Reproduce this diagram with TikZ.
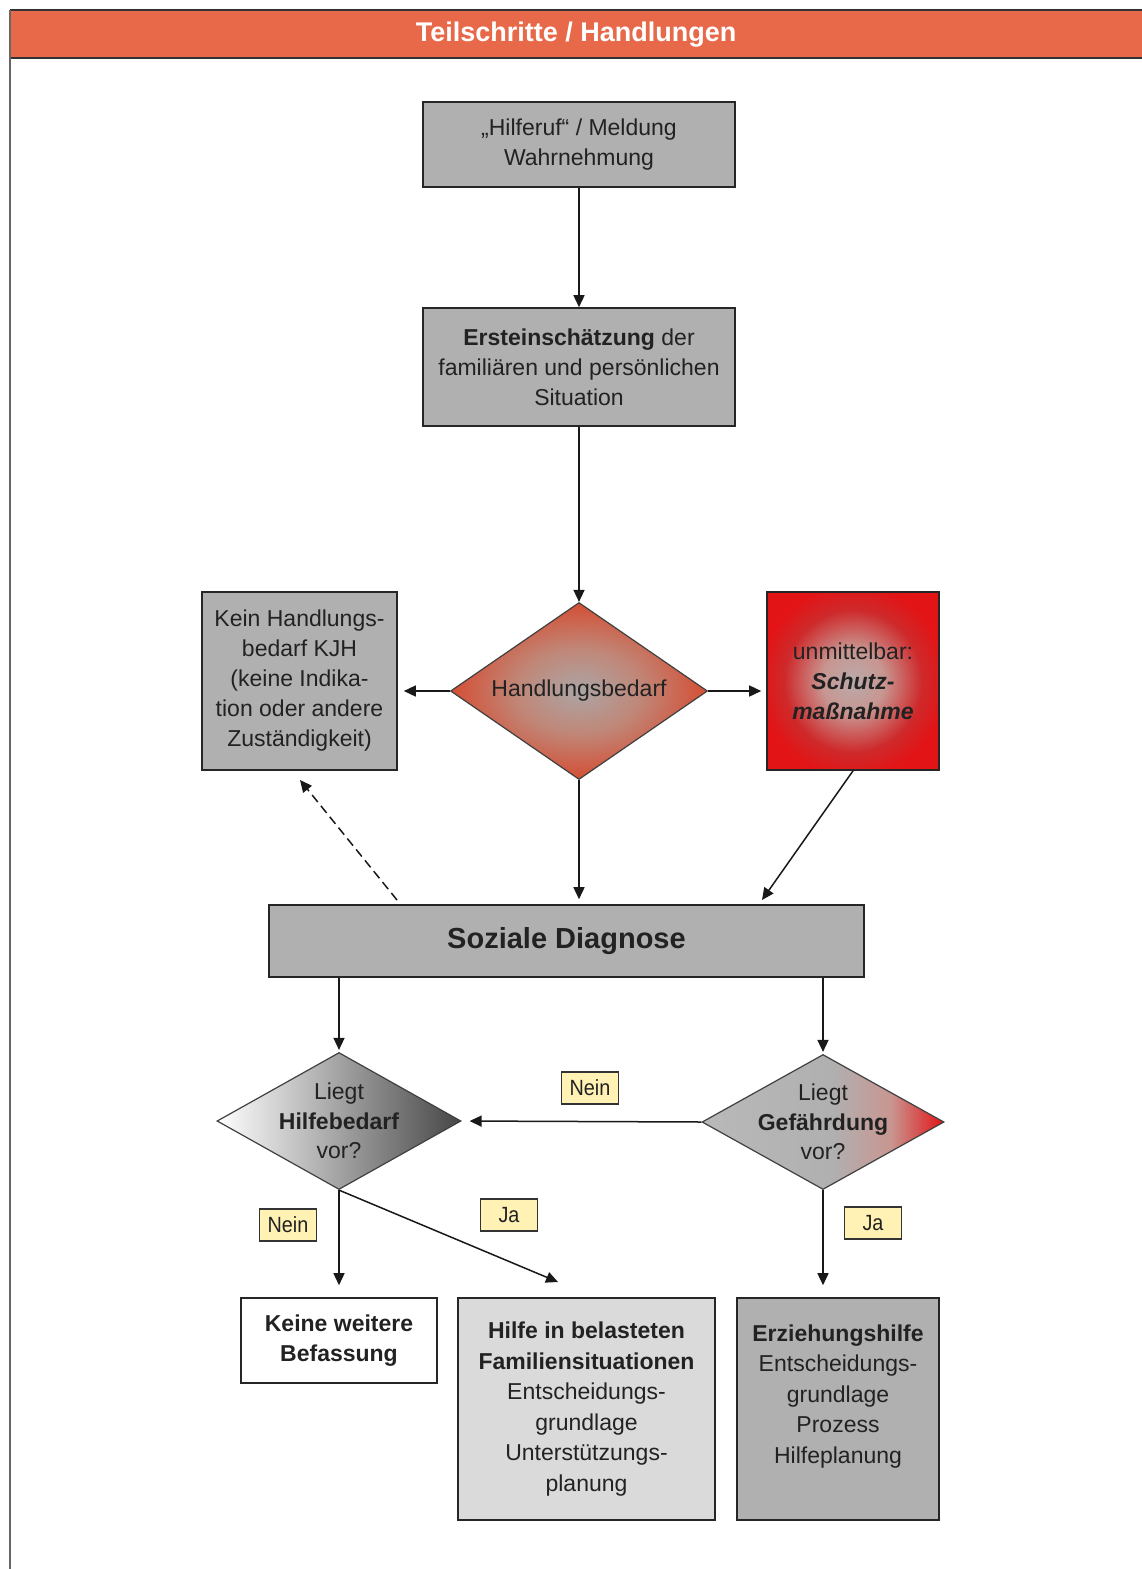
\documentclass[tikz,border=0pt]{standalone}
\usepackage{fontspec}
\setmainfont{Liberation Sans}
\newfontfamily\narrowfont{Liberation Sans}[FakeStretch=0.9]
\usetikzlibrary{arrows.meta,shapes.geometric}
\definecolor{hdr}{RGB}{232,105,74}
\definecolor{boxgray}{RGB}{176,176,176}
\definecolor{lightbox}{RGB}{218,218,218}
\definecolor{lab}{RGB}{255,242,180}
\definecolor{txt}{RGB}{34,34,34}
\definecolor{hred}{RGB}{212,78,52}
\definecolor{hmid}{RGB}{192,135,120}
\definecolor{hcen}{RGB}{172,165,165}
\definecolor{sred}{RGB}{226,20,22}
\definecolor{pinkgray}{RGB}{200,150,145}
\definecolor{scen}{RGB}{185,170,170}
\pgfdeclareradialshading{schutzshade}{\pgfpoint{0bp}{0bp}}{%
  color(0bp)=(scen);
  color(9bp)=(pinkgray);
  color(20bp)=(gray!20!sred);
  color(27bp)=(sred);
  color(50bp)=(sred)}
\pgfdeclareradialshading{handlshade}{\pgfpoint{0bp}{0bp}}{%
  color(0bp)=(hcen);
  color(12bp)=(hmid);
  color(25bp)=(hred);
  color(50bp)=(hred)}
\pgfdeclarehorizontalshading{gefshade}{100bp}{%
  color(0bp)=(gray!55);
  color(25bp)=(gray!55);
  color(52bp)=(gray!62);
  color(64bp)=(pinkgray);
  color(75bp)=(sred);
  color(100bp)=(sred)}
\begin{document}
\begin{tikzpicture}[x=1pt,y=-1pt,
  every node/.style={text=txt, align=center},
  boxstyle/.style={draw=black!85, line width=1.6pt, inner sep=2pt, font=\fontsize{23}{30}\selectfont},
  dia/.style={shape=diamond, draw=black!75, line width=1.2pt, inner sep=0pt},
  diatext/.style={font=\fontsize{23}{29.5}\selectfont, inner sep=0pt},
  labbox/.style={draw=black!80, fill=lab, line width=1.2pt, inner sep=2pt, minimum width=57pt, minimum height=32pt, font=\narrowfont\fontsize{22}{24}\selectfont},
  arr/.style={-{Triangle[width=11pt,length=12pt]}, line width=1.5pt, draw=black!90},
]
\useasboundingbox (0,0) rectangle (1142,1569);
\fill[white] (0,0) rectangle (1142,1569);
% frame and header
\node[fill=hdr, minimum width=1132pt, minimum height=48pt, inner sep=0pt, anchor=north west, text=white, font=\bfseries\fontsize{27}{30}\selectfont] (hdr) at (10,10) {Teilschritte / Handlungen};
\draw[line width=2pt, black!80] (10,10) -- (1142,10);
\draw[line width=2pt, black!80] (10,58) -- (1142,58);
\draw[line width=1.5pt, black!60] (10,10) -- (10,1569);

% boxes
\node[boxstyle, fill=boxgray, minimum width=312pt, minimum height=85pt] (b1) at (579,144.5) {„Hilferuf“ / Meldung\\Wahrnehmung};
\node[boxstyle, fill=boxgray, minimum width=312pt, minimum height=118pt] (b2) at (579,367) {\textbf{Ersteinschätzung} der\\familiären und persönlichen\\Situation};
\node[dia, minimum width=257pt, minimum height=177pt, shading=handlshade] (d1) at (579,691) {};
\node[diatext] (d1t) at (d1.center) {Handlungsbedarf};
\node[boxstyle, fill=boxgray, minimum width=195pt, minimum height=178pt] (kein) at (299.5,681) {Kein Handlungs-\\bedarf KJH\\(keine Indika-\\tion oder andere\\Zuständigkeit)};
\node[boxstyle, shading=schutzshade, minimum width=172pt, minimum height=178pt] (schutz) at (853,681) {unmittelbar:\\\textbf{\textit{Schutz-}}\\\textbf{\textit{maßnahme}}};
\node[boxstyle, fill=boxgray, minimum width=595pt, minimum height=72pt, font=\bfseries\fontsize{29}{32}\selectfont] (sd) at (566.5,941) {Soziale Diagnose};
\node[dia, minimum width=244pt, minimum height=137pt, shading angle=-60, left color=white, right color=gray!55!black] (d2) at (339,1121) {};
\node[diatext] (d2t) at (d2.center) {Liegt\\\textbf{Hilfebedarf}\\vor?};
\node[dia, minimum width=242pt, minimum height=135pt, shading=gefshade] (d3) at (823,1122) {};
\node[diatext] (d3t) at (d3.center) {Liegt\\\textbf{Gefährdung}\\vor?};
\node[boxstyle, fill=white, minimum width=196pt, minimum height=85pt] (keine) at (339,1340.5) {\textbf{Keine weitere}\\\textbf{Befassung}};
\node[boxstyle, fill=lightbox, minimum width=257pt, minimum height=222pt, font=\fontsize{23}{30.5}\selectfont] (hilfe) at (586.5,1409) {\textbf{Hilfe in belasteten}\\\textbf{Familiensituationen}\\Entscheidungs-\\grundlage\\Unterstützungs-\\planung};
\node[boxstyle, fill=boxgray, minimum width=202pt, minimum height=222pt, font=\fontsize{23}{30.5}\selectfont] (erz) at (838,1409) {\textbf{Erziehungshilfe}\\Entscheidungs-\\grundlage\\Prozess\\Hilfeplanung\\\mbox{}};

% labels
\node[labbox] (n1) at (590,1088) {Nein};
\node[labbox] (n2) at (288,1225) {Nein};
\node[labbox] (j1) at (509,1215) {Ja};
\node[labbox] (j2) at (873,1223) {Ja};

% coordinates
\coordinate (sdR) at (762,900);
\coordinate (dashS) at (397,900);
\coordinate (dashE) at (300,780);
\coordinate (jaE) at (558,1282);

% connectors
\draw[arr] (b1.south) -- (b2.north);
\draw[arr] (b2.south) -- (d1.north);
\draw[arr, shorten >=6pt] (d1.west) -- (d1.west -| kein.east);
\draw[arr, shorten >=5pt] (d1.east) -- (d1.east -| schutz.west);
\draw[arr, shorten >=5pt] (d1.south) -- (d1.south |- sd.north);
\draw[arr] (schutz.south) -- (sdR);
\draw[arr, dashed, dash pattern=on 9pt off 5pt] (dashS) -- (dashE);
\draw[arr, shorten >=2pt] (d2.north |- sd.south) -- (d2.north);
\draw[arr, shorten >=2pt] (d3.north |- sd.south) -- (d3.north);
\draw[arr, shorten >=8pt] (d3.west) -- (d2.east);
\draw[arr, shorten >=12pt] (d2.south) -- (d2.south |- keine.north);
\draw[arr] (d2.south) -- (jaE);
\draw[arr, shorten >=12pt] (d3.south) -- (d3.south |- erz.north);
\end{tikzpicture}
\end{document}
